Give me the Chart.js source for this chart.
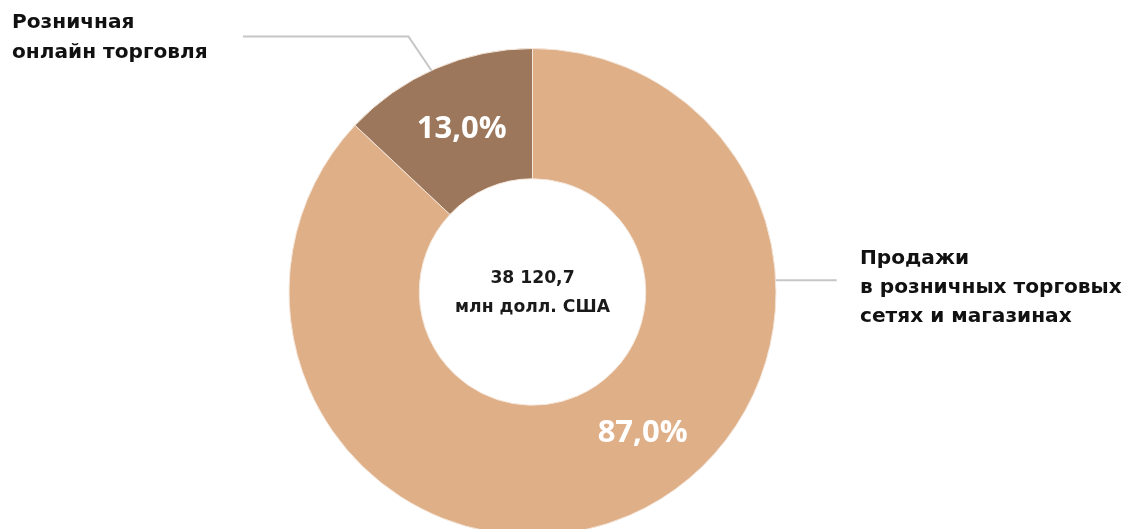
<!DOCTYPE html>
<html lang="ru">
<head>
<meta charset="utf-8">
<script src="https://cdn.jsdelivr.net/npm/chart.js@4"></script>
<style>
html,body{margin:0;padding:0;background:#fff;overflow:hidden;}
#wrap{position:relative;width:1127px;height:560px;}
</style>
</head>
<body>
<div id="wrap"><canvas id="c"></canvas></div>
<script>
const categories = ["Продажи в розничных торговых сетях и магазинах", "Розничная онлайн торговля"];
const labelLines = [["Продажи", "в розничных торговых", "сетях и магазинах"], ["Розничная", "онлайн торговля"]];
const shares = [87.0, 13.0];
const percentLabels = ["87,0%", "13,0%"];
const totalLines = ["38 120,7", "млн долл. США"];
const colors = ["#dfaf88", "#9c775b"];
const labelAngleFraction = [0.453, 0.5];

const FONT = '"DejaVu Sans", sans-serif';
const PFONT = '"Open Sans", sans-serif';

function fitSize(ctx, text, width, base) {
  ctx.font = 'bold ' + base + 'px ' + FONT;
  return base * width / ctx.measureText(text).width;
}

const overlay = {
  id: 'overlay',
  afterDatasetsDraw(chart) {
    const ctx = chart.ctx;
    const meta = chart.getDatasetMeta(0);
    const a0 = meta.data[0], a1 = meta.data[1];
    const cx = a0.x, cy = a0.y, R = a0.outerRadius;
    ctx.save();
    ctx.textAlign = 'center';
    ctx.textBaseline = 'middle';
    // percent labels
    ctx.fillStyle = '#fff';
    ctx.font = 'bold 31px ' + PFONT;
    meta.data.forEach((arc, i) => {
      const ang = arc.startAngle + (arc.endAngle - arc.startAngle) * labelAngleFraction[i];
      const rr = (arc.outerRadius + arc.innerRadius) / 2;
      ctx.fillText(percentLabels[i], cx + rr * Math.cos(ang), cy + rr * Math.sin(ang) + 1);
    });
    // center text
    ctx.fillStyle = '#1a1a1a';
    const cs = fitSize(ctx, totalLines[1], 155, 15);
    ctx.font = 'bold ' + cs + 'px ' + FONT;
    ctx.fillText(totalLines[0], cx, cy - 13);
    ctx.fillText(totalLines[1], cx, cy + 16);
    // leader lines
    ctx.strokeStyle = '#c6c6c6';
    ctx.lineWidth = 2;
    const angB = a1.startAngle + (a1.endAngle - a1.startAngle) * 0.476;
    const ex = cx + R * Math.cos(angB), ey = cy + R * Math.sin(angB);
    ctx.beginPath();
    ctx.moveTo(ex, ey);
    ctx.lineTo(ex - 23, cy - R - 12);
    ctx.lineTo(243, cy - R - 12);
    ctx.stroke();
    const angT = a0.startAngle + (a0.endAngle - a0.startAngle) * 0.2785;
    const tx = cx + R * Math.cos(angT), ty = cy + R * Math.sin(angT);
    ctx.beginPath();
    ctx.moveTo(tx, ty);
    ctx.lineTo(tx + 61, ty);
    ctx.stroke();
    // category labels
    ctx.fillStyle = '#111';
    const ls = fitSize(ctx, labelLines[0][1], 262, 17);
    ctx.font = 'bold ' + ls + 'px ' + FONT;
    ctx.textAlign = 'left';
    labelLines[1].forEach((t, k) => ctx.fillText(t, 12, 23 + k * 29.5));
    labelLines[0].forEach((t, k) => ctx.fillText(t, 860, 259 + k * 29));
    ctx.restore();
  }
};

new Chart(document.getElementById('c'), {
  type: 'doughnut',
  data: {
    labels: categories,
    datasets: [{
      data: shares,
      backgroundColor: colors,
      borderColor: '#f4e6da',
      borderWidth: 1,
      hoverOffset: 0
    }]
  },
  options: {
    responsive: true,
    maintainAspectRatio: false,
    animation: false,
    cutout: '46.5%',
    layout: { padding: { left: 288.5, right: 350.5, top: 48, bottom: 24 } },
    plugins: { legend: { display: false }, tooltip: { enabled: false } },
    events: []
  },
  plugins: [overlay]
});
</script>
</body>
</html>
